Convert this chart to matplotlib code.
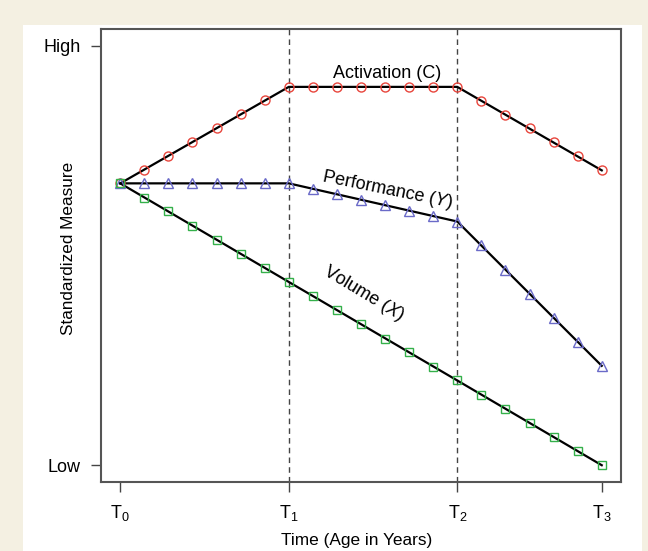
import numpy as np
import matplotlib.pyplot as plt
from matplotlib.patches import Rectangle

plt.rcParams['font.family'] = ['Liberation Sans', 'DejaVu Sans']
plt.rcParams['mathtext.fontset'] = 'custom'
plt.rcParams['mathtext.rm'] = 'Liberation Sans'
plt.rcParams['mathtext.it'] = 'Liberation Sans:italic'

# Time steps (T0 = 0, T1 = 7, T2 = 14, T3 = 20)
time = list(range(21))
phase_pos = [0, 7, 14, 20]
phase_labels = [r'T$_0$', r'T$_1$', r'T$_2$', r'T$_3$']

# Standardized measures (0 = Low, 1 = High)
activation = [0.672, 0.705, 0.738, 0.771, 0.804, 0.837, 0.870, 0.902,
              0.902, 0.902, 0.902, 0.902, 0.902, 0.902, 0.902,
              0.869, 0.836, 0.803, 0.770, 0.737, 0.703]
performance = [0.672, 0.672, 0.672, 0.672, 0.672, 0.672, 0.672, 0.672,
               0.659, 0.646, 0.633, 0.620, 0.607, 0.594, 0.581,
               0.524, 0.466, 0.409, 0.352, 0.294, 0.237]
volume = [0.672, 0.638, 0.605, 0.571, 0.538, 0.504, 0.470, 0.437,
          0.403, 0.370, 0.336, 0.302, 0.269, 0.235, 0.202,
          0.168, 0.134, 0.101, 0.067, 0.034, 0.000]

fig = plt.figure(figsize=(6.48, 5.51), dpi=100, facecolor='#f4f0e2')
# white panel inside cream border
fig.patches.append(Rectangle((23 / 648, 0), (642 - 23) / 648, (551 - 25) / 551,
                             transform=fig.transFigure, facecolor='white',
                             edgecolor='none', zorder=-10))
ax = fig.add_axes([101 / 648, 69 / 551, 520 / 648, 453 / 551])
ax.set_zorder(1)

# vertical dashed lines at T1 and T2
for t in phase_pos[1:3]:
    ax.axvline(t, color='#444444', ls=(0, (4, 3)), lw=1.0, zorder=1)

# black segments joining the phase points
x_idx = phase_pos
for series in [activation, performance, volume]:
    ax.plot(x_idx, [series[i] for i in x_idx], color='black', lw=1.6, zorder=2)

ax.plot(time, activation, ls='none', marker='o', ms=6.5, mfc='none',
        mec='#e8453c', mew=1.0, zorder=3)
ax.plot(time, performance, ls='none', marker='^', ms=7, mfc='none',
        mec='#6a6ac8', mew=1.0, zorder=3)
ax.plot(time, volume, ls='none', marker='s', ms=6, mfc='none',
        mec='#34b04a', mew=1.0, zorder=3)

# curve labels
ax.text(11.1, 0.935, 'Activation (C)', fontsize=13, ha='center', va='center')
ax.text(11.1, 0.656, r'Performance ($\it{Y}$)', fontsize=13, ha='center',
        va='center', rotation=-11.5, rotation_mode='anchor')
ax.text(10.1, 0.41, r'Volume ($\it{X}$)', fontsize=13, ha='center',
        va='center', rotation=-31, rotation_mode='anchor')

ax.set_xlim(-0.8, 20.8)
ax.set_ylim(-0.04, 1.04)
ax.set_xticks(phase_pos)
ax.set_xticklabels(phase_labels, fontsize=13)
ax.set_yticks([0, 1])
ax.set_yticklabels(['Low', 'High'], fontsize=13)
ax.tick_params(direction='out', length=7, width=1.0, color='#444444', pad=7.5)
ax.tick_params(axis='x', pad=8)
for s in ax.spines.values():
    s.set_color('#555555')
    s.set_linewidth(1.5)

ax.set_xlabel('Time (Age in Years)', fontsize=12.4)
ax.xaxis.set_label_coords(0.492, -0.112)
ax.set_ylabel('Standardized Measure', fontsize=12.3)
ax.yaxis.set_label_coords(-0.048, 0.515)

fig.savefig('out.png', dpi=100, facecolor=fig.get_facecolor())
